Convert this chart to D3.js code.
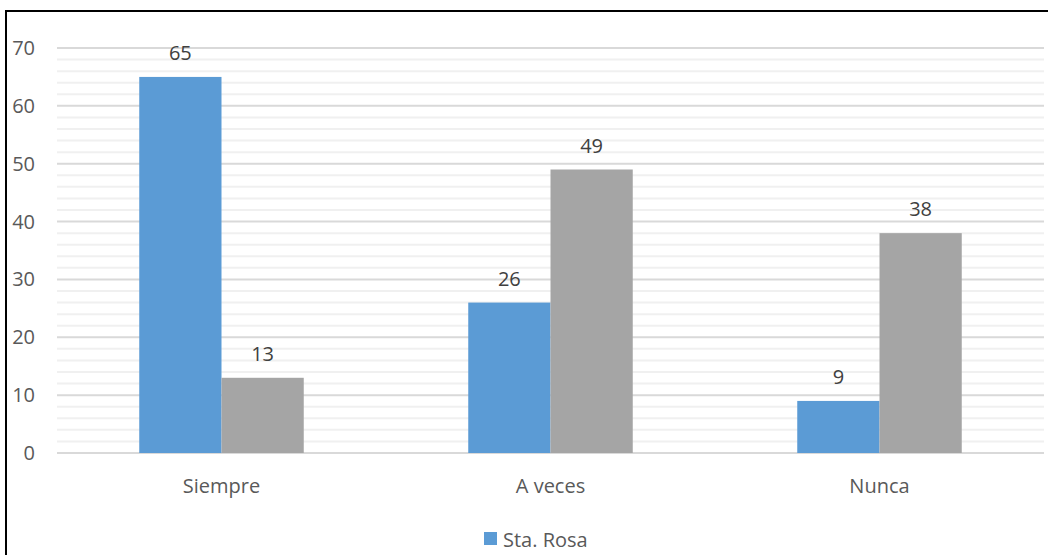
<!DOCTYPE html>
<html>
<head>
<meta charset="utf-8">
<script src="https://d3js.org/d3.v7.min.js"></script>
<style>
  body { margin: 0; background: #fff; }
  text { font-family: "Open Sans", sans-serif; fill: #595959; }
</style>
</head>
<body>
<div id="chart"></div>
<script>
const categories = ["Siempre", "A veces", "Nunca"];
const staRosa = [65, 26, 9];
const other = [13, 49, 38];
const yTicks = [0, 10, 20, 30, 40, 50, 60, 70];
const legendLabels = ["Sta. Rosa"];

const width = 1048, height = 555;
const margin = { top: 48, right: 4, bottom: 102, left: 57 };
const innerW = width - margin.left - margin.right;
const innerH = height - margin.top - margin.bottom;

const svg = d3.select("#chart").append("svg")
  .attr("width", width)
  .attr("height", height);

// frame (top and left edges)
svg.append("line").attr("x1", 6).attr("x2", width).attr("y1", 11).attr("y2", 11)
  .attr("stroke", "#000").attr("stroke-width", 2);
svg.append("line").attr("x1", 6).attr("x2", 6).attr("y1", 10).attr("y2", height)
  .attr("stroke", "#000").attr("stroke-width", 2);

const g = svg.append("g").attr("transform", `translate(${margin.left},${margin.top})`);

const x = d3.scaleBand().domain(categories).range([0, innerW]).paddingInner(0).paddingOuter(0);
const y = d3.scaleLinear().domain([0, 70]).range([innerH, 0]);

// minor gridlines
g.selectAll(".minor").data(d3.range(0, 71, 2).filter(v => v % 10 !== 0))
  .enter().append("line")
  .attr("x1", 0).attr("x2", innerW)
  .attr("y1", d => y(d)).attr("y2", d => y(d))
  .attr("stroke", "#f0f0f0").attr("stroke-width", 2);

// major gridlines
g.selectAll(".major").data(yTicks)
  .enter().append("line")
  .attr("x1", 0).attr("x2", innerW)
  .attr("y1", d => y(d)).attr("y2", d => y(d))
  .attr("stroke", "#d9d9d9").attr("stroke-width", 2);

// y labels
g.selectAll(".ylab").data(yTicks)
  .enter().append("text")
  .attr("x", -22).attr("y", d => y(d))
  .attr("dy", "0.35em")
  .attr("text-anchor", "end")
  .attr("font-size", 20)
  .text(d => d);

const bw = x.bandwidth() / 4;
const series = [
  { values: staRosa, color: "#5b9bd5", offset: 1 },
  { values: other, color: "#a5a5a5", offset: 2 }
];

series.forEach(s => {
  g.selectAll(null).data(categories)
    .enter().append("rect")
    .attr("x", (d) => x(d) + bw * s.offset)
    .attr("width", bw)
    .attr("y", (d, i) => y(s.values[i]))
    .attr("height", (d, i) => innerH - y(s.values[i]))
    .attr("fill", s.color);

  g.selectAll(null).data(categories)
    .enter().append("text")
    .attr("x", (d) => x(d) + bw * s.offset + bw / 2)
    .attr("y", (d, i) => y(s.values[i]) - 17)
    .attr("text-anchor", "middle")
    .attr("font-size", 20)
    .style("fill", "#404040")
    .text((d, i) => s.values[i]);
});

// category labels
g.selectAll(".xlab").data(categories)
  .enter().append("text")
  .attr("x", d => x(d) + x.bandwidth() / 2)
  .attr("y", innerH + 40)
  .attr("text-anchor", "middle")
  .attr("font-size", 20)
  .text(d => d);

// legend
const leg = svg.append("g").attr("transform", "translate(484,532)");
leg.append("rect").attr("width", 13).attr("height", 13).attr("fill", "#5b9bd5");
leg.append("text").attr("x", 19).attr("y", 15).attr("font-size", 20).text(legendLabels[0]);
</script>
</body>
</html>
